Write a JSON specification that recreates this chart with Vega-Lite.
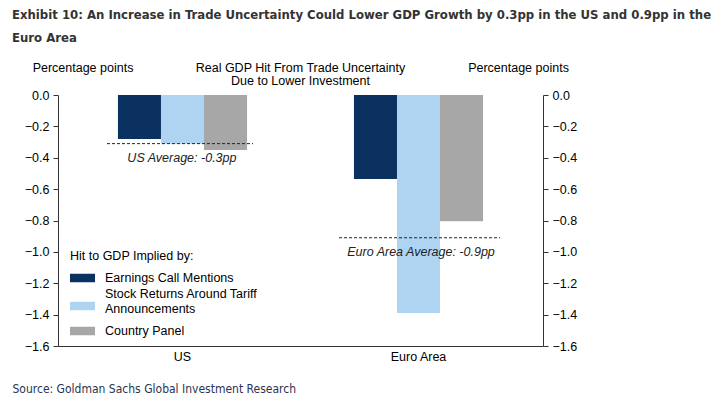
{
  "$schema": "https://vega.github.io/schema/vega-lite/v6.json",
  "autosize": {"type": "none"},
  "padding": {"left": 58, "top": 95, "right": 181, "bottom": 59},
  "width": 485,
  "height": 251,
  "title": {
    "text": ["Exhibit 10: An Increase in Trade Uncertainty Could Lower GDP Growth by 0.3pp in the US and 0.9pp in the", "Euro Area"],
    "anchor": "start",
    "frame": "group",
    "dx": -46,
    "dy": -6,
    "baseline": "top",
    "offset": 10,
    "font": "'DejaVu Sans Condensed', 'Liberation Sans Narrow', sans-serif",
    "fontSize": 13,
    "fontWeight": "bold",
    "color": "#333333",
    "lineHeight": 23
  },
  "datasets": {
    "bars": [
      {"region": "US", "series": "Earnings Call Mentions", "value": -0.28},
      {"region": "US", "series": "Stock Returns Around Tariff Announcements", "value": -0.31},
      {"region": "US", "series": "Country Panel", "value": -0.35},
      {"region": "Euro Area", "series": "Earnings Call Mentions", "value": -0.535},
      {"region": "Euro Area", "series": "Stock Returns Around Tariff Announcements", "value": -1.39},
      {"region": "Euro Area", "series": "Country Panel", "value": -0.805}
    ],
    "averages": [
      {"region": "US", "avg": -0.31, "start": 0.202, "end": 0.804, "mid": 0.511, "label": "US Average: -0.3pp"},
      {"region": "Euro Area", "avg": -0.91, "start": 1.159, "end": 1.823, "mid": 1.497, "label": "Euro Area Average: -0.9pp"}
    ]
  },
  "layer": [
    {
      "data": {"name": "bars"},
      "mark": {"type": "bar"},
      "encoding": {
        "x": {
          "field": "region", "type": "nominal", "sort": ["US", "Euro Area"],
          "scale": {"paddingInner": 0.453, "paddingOuter": 0.254},
          "axis": {
            "orient": "bottom", "labelAngle": 0, "ticks": false, "labelPadding": 4,
            "labelFontSize": 12.5, "labelColor": "#000000", "domainColor": "#333333",
            "title": "Source: Goldman Sachs Global Investment Research",
            "titleX": -46, "titleY": 42, "titleAlign": "left", "titleBaseline": "middle",
            "titleFont": "'DejaVu Sans Condensed', 'Liberation Sans Narrow', sans-serif", "titleFontSize": 12, "titleFontWeight": "normal",
            "titleColor": "#2b3550"
          }
        },
        "xOffset": {
          "field": "series", "type": "nominal",
          "sort": ["Earnings Call Mentions", "Stock Returns Around Tariff Announcements", "Country Panel"],
          "scale": {"paddingInner": 0, "paddingOuter": 0}
        },
        "y": {
          "field": "value", "type": "quantitative",
          "scale": {"domain": [-1.6, 0], "nice": false, "zero": false},
          "axis": {
            "orient": "left", "values": [0, -0.2, -0.4, -0.6, -0.8, -1.0, -1.2, -1.4, -1.6],
            "format": ".1f", "grid": false, "tickSize": 5, "labelPadding": 4,
            "labelFontSize": 12.5, "labelColor": "#000000", "domainColor": "#333333", "tickColor": "#333333",
            "title": "Percentage points", "titleAngle": 0, "titleX": 24.5, "titleY": -28,
            "titleAlign": "center", "titleBaseline": "middle", "titleFontSize": 12.5,
            "titleFontWeight": "normal", "titleColor": "#000000"
          }
        },
        "color": {
          "field": "series", "type": "nominal",
          "sort": ["Earnings Call Mentions", "Stock Returns Around Tariff Announcements", "Country Panel"],
          "scale": {"range": ["#0b3160", "#aed4f2", "#a7a7a7"]},
          "legend": {
            "orient": "none", "legendX": 12, "legendY": 155,
            "title": "Hit to GDP Implied by:", "titleFontSize": 12.5, "titleFontWeight": "normal",
            "titleColor": "#000000", "titlePadding": 3,
            "labelFontSize": 12.5, "labelColor": "#000000", "labelOffset": 10, "labelLimit": 300,
            "labelExpr": "datum.label == 'Stock Returns Around Tariff Announcements' ? ['Stock Returns Around Tariff', 'Announcements'] : datum.label",
            "symbolType": "M-1,-0.34H1V0.34H-1Z", "symbolSize": 625, "symbolStrokeWidth": 0,
            "rowPadding": 3,
            "encode": {
              "labels": {
                "update": {
                  "dy": {"signal": "datum.label == 'Stock Returns Around Tariff Announcements' ? -12 : 0"}
                }
              }
            }
          }
        }
      }
    },
    {
      "data": {"name": "averages"},
      "mark": {"type": "rule", "color": "#222222", "strokeWidth": 1, "strokeDash": [3, 2]},
      "encoding": {
        "x": {
          "field": "start", "type": "quantitative",
          "scale": {"domain": [0, 2], "nice": false, "zero": false},
          "axis": {
            "orient": "top", "domain": false, "ticks": false, "labels": false, "grid": false,
            "title": ["Real GDP Hit From Trade Uncertainty", "Due to Lower Investment"],
            "titleX": 242, "titleY": -28, "titleAlign": "center", "titleBaseline": "middle",
            "titleLineHeight": 13, "titleFontSize": 12.5, "titleFontWeight": "normal", "titleColor": "#000000"
          }
        },
        "x2": {"field": "end"},
        "y": {
          "field": "avg", "type": "quantitative",
          "scale": {"domain": [-1.6, 0], "nice": false, "zero": false},
          "axis": {
            "orient": "right", "values": [0, -0.2, -0.4, -0.6, -0.8, -1.0, -1.2, -1.4, -1.6],
            "format": ".1f", "grid": false, "tickSize": 5, "labelPadding": 4,
            "labelFontSize": 12.5, "labelColor": "#000000", "domainColor": "#333333", "tickColor": "#333333",
            "title": "Percentage points", "titleAngle": 0, "titleX": -25, "titleY": -28,
            "titleAlign": "center", "titleBaseline": "middle", "titleFontSize": 12.5,
            "titleFontWeight": "normal", "titleColor": "#000000"
          }
        }
      }
    },
    {
      "data": {"name": "averages"},
      "mark": {"type": "text", "fontStyle": "italic", "fontSize": 12.5, "color": "#222222", "baseline": "middle", "dy": 14},
      "encoding": {
        "x": {"field": "mid", "type": "quantitative", "scale": {"domain": [0, 2], "nice": false, "zero": false}, "axis": null},
        "y": {"field": "avg", "type": "quantitative", "scale": {"domain": [-1.6, 0], "nice": false, "zero": false}, "axis": null},
        "text": {"field": "label"}
      }
    },
    {
      "mark": {"type": "rule", "color": "#333333", "strokeWidth": 1, "strokeDash": [3, 2]},
      "encoding": {
        "y": {"datum": 0, "type": "quantitative", "axis": null}
      }
    }
  ],
  "resolve": {
    "scale": {"x": "independent"},
    "axis": {"x": "independent", "y": "independent"}
  },
  "config": {
    "font": "Liberation Sans",
    "view": {"stroke": null},
    "axis": {"labelFont": "Liberation Sans", "titleFont": "Liberation Sans"},
    "legend": {"labelFont": "Liberation Sans", "titleFont": "Liberation Sans"}
  }
}
